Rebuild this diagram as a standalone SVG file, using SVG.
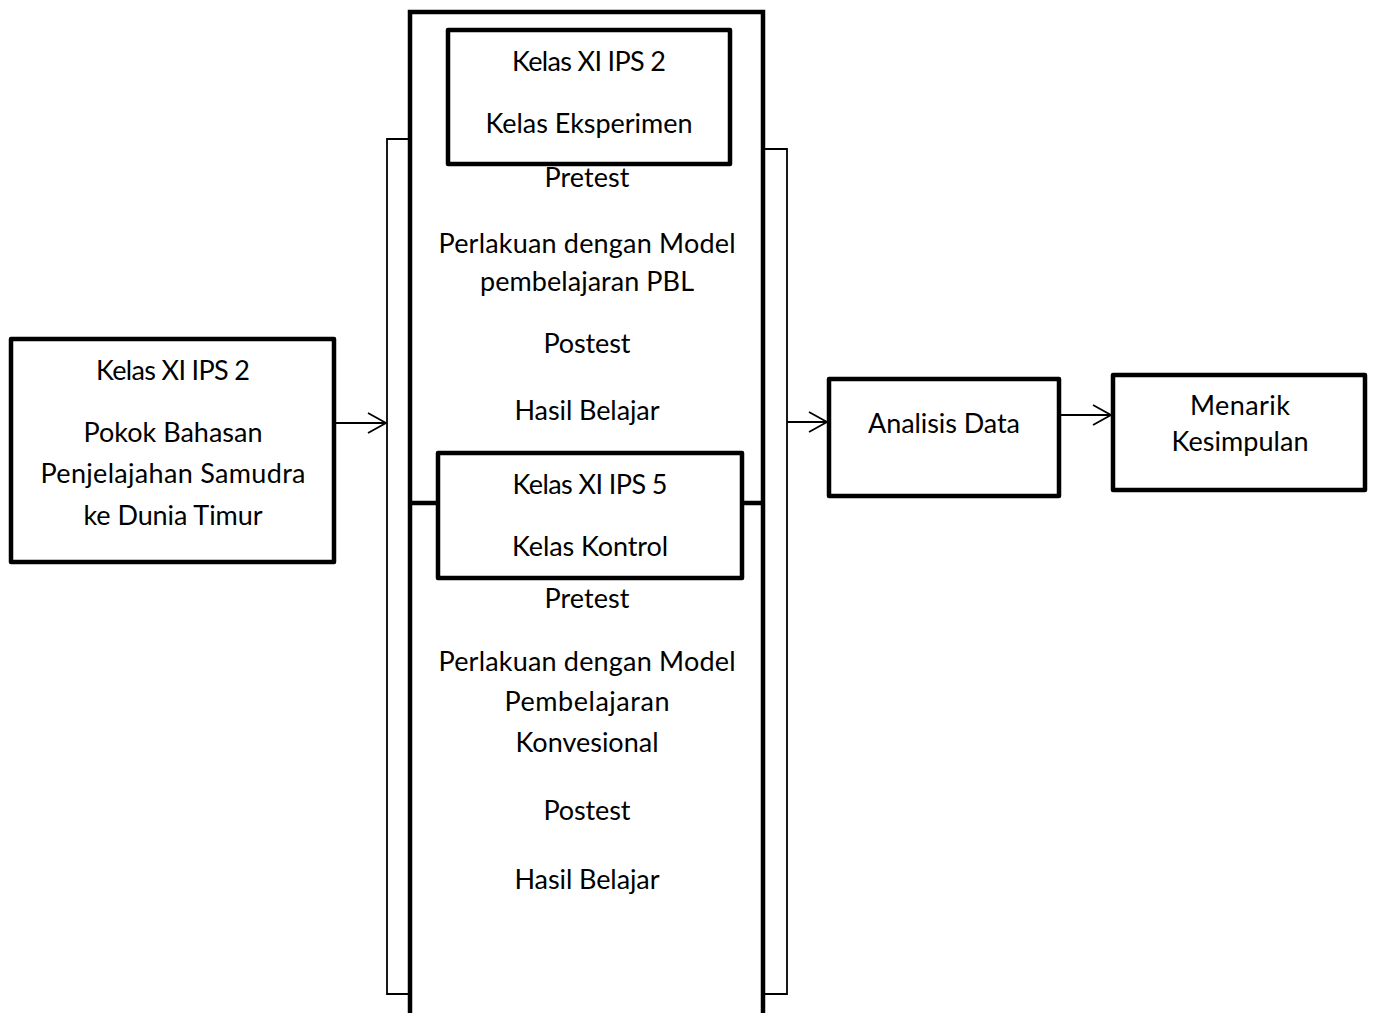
<svg xmlns="http://www.w3.org/2000/svg" width="1373" height="1013" viewBox="0 0 1373 1013">
<style>
.box{fill:#fff;stroke:#000;stroke-width:4.5;stroke-linejoin:round}
.thick{fill:none;stroke:#000;stroke-width:4.5}
.thin{fill:none;stroke:#000;stroke-width:1.8}
.conn{fill:none;stroke:#000;stroke-width:1.8}
text{font-family:Lato,"Liberation Sans",sans-serif;font-size:27px;fill:#000;text-anchor:middle}
</style>
<defs>
<marker id="arr" markerUnits="userSpaceOnUse" markerWidth="24" markerHeight="24" viewBox="0 0 24 24" refX="20" refY="12" orient="auto">
<path d="M2,2 L20,12 L2,22" fill="none" stroke="#000" stroke-width="1.8"/>
</marker>
</defs>
<rect width="1373" height="1013" fill="#fff"/>

<g id="brackets">
<path class="thin" d="M410,139 H387 V994 H410"/>
<path class="thin" d="M763,149 H787 V994 H763"/>
</g>

<g id="central">
<path class="thick" d="M410,1020 V12 H763 V1020"/>
<line class="thick" x1="410" y1="503" x2="763" y2="503"/>
</g>

<g id="connectors">
<line class="conn" x1="335" y1="423" x2="386" y2="423" marker-end="url(#arr)"/>
<line class="conn" x1="787" y1="422" x2="827" y2="422" marker-end="url(#arr)"/>
<line class="conn" x1="1059" y1="415" x2="1111" y2="415" marker-end="url(#arr)"/>
</g>

<g id="node-source">
<rect class="box" x="11" y="339" width="323" height="223"/>
<text x="173" y="380" textLength="154">Kelas XI IPS 2</text>
<text x="173" y="442" textLength="179">Pokok Bahasan</text>
<text x="173" y="483" textLength="265">Penjelajahan Samudra</text>
<text x="173" y="525" textLength="179">ke Dunia Timur</text>
</g>

<g id="node-eksperimen">
<rect class="box" x="448" y="30" width="282" height="134"/>
<text x="589" y="71" textLength="154">Kelas XI IPS 2</text>
<text x="589" y="133" textLength="207">Kelas Eksperimen</text>
</g>

<g id="steps-eksperimen">
<text x="587" y="187" textLength="85">Pretest</text>
<text x="587" y="253" textLength="297">Perlakuan dengan Model</text>
<text x="587" y="291" textLength="214">pembelajaran PBL</text>
<text x="587" y="353" textLength="87">Postest</text>
<text x="587" y="420" textLength="145">Hasil Belajar</text>
</g>

<g id="node-kontrol">
<rect class="box" x="438" y="453" width="304" height="125"/>
<text x="590" y="494" textLength="155">Kelas XI IPS 5</text>
<text x="590" y="556" textLength="156">Kelas Kontrol</text>
</g>

<g id="steps-kontrol">
<text x="587" y="608" textLength="85">Pretest</text>
<text x="587" y="671" textLength="297">Perlakuan dengan Model</text>
<text x="587" y="711" textLength="165">Pembelajaran</text>
<text x="587" y="752" textLength="143">Konvesional</text>
<text x="587" y="820" textLength="87">Postest</text>
<text x="587" y="889" textLength="145">Hasil Belajar</text>
</g>

<g id="node-analisis">
<rect class="box" x="829" y="379" width="230" height="117"/>
<text x="944" y="433" textLength="152">Analisis Data</text>
</g>

<g id="node-kesimpulan">
<rect class="box" x="1113" y="375" width="252" height="115"/>
<text x="1240" y="415" textLength="100">Menarik</text>
<text x="1240" y="451" textLength="137">Kesimpulan</text>
</g>
</svg>
